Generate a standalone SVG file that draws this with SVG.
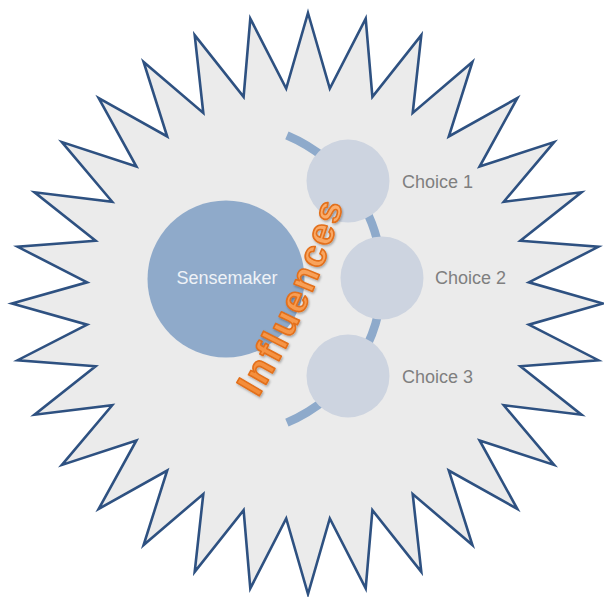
<svg xmlns="http://www.w3.org/2000/svg" width="604" height="597" viewBox="0 0 604 597">
  <defs>
    <style>
      .star { fill: #ebebeb; stroke: #2e5181; stroke-width: 2.6; stroke-linejoin: miter; stroke-miterlimit: 20; }
      .arc { fill: none; stroke: #8eaacb; stroke-width: 8.5; stroke-linecap: butt; }
      .main { fill: #8faaca; }
      .choice { fill: #cdd4e0; }
      .lbl { font-family: "Liberation Sans", Arial, sans-serif; font-size: 18px; fill: #7f7f7f; }
      .mainlbl { font-family: "Liberation Sans", Arial, sans-serif; font-size: 18px; fill: #eef2f7; text-anchor: middle; }
      .infl { font-family: "Liberation Sans", Arial, sans-serif; font-size: 38px; font-weight: bold; letter-spacing: 2.6px; fill: url(#orange); stroke: #e36f1a; stroke-width: 1.6; stroke-linejoin: round; }
    </style>
    <linearGradient id="orange" x1="0" y1="0" x2="0" y2="1">
      <stop offset="0" stop-color="#fbb071"/>
      <stop offset="1" stop-color="#f38a35"/>
    </linearGradient>
    <filter id="shadow" x="-20%" y="-20%" width="140%" height="140%">
      <feDropShadow dx="1" dy="1.5" stdDeviation="1.2" flood-color="#000000" flood-opacity="0.3"/>
    </filter>
    <path id="inflPath" d="M 258 398 Q 318.5 296.4 345 198 L 351 176"/>
  </defs>

  <g id="star">
    <polygon class="star" points="308,13 329.8,88.5 365.7,18.6 372.4,96.8 421.3,35.1 412.7,113 472.4,62 448.8,136.5 517.3,98.1 479.6,166.5 554.1,142.1 503.8,201.7 581.5,192.3 520.4,240.8 598.3,246.8 528.9,282.3 603,303.5 528.9,324.7 598.3,360.2 520.4,366.2 581.5,414.7 503.8,405.3 554.1,464.9 479.6,440.5 517.3,508.9 448.8,470.5 472.4,545 412.7,494 421.3,571.9 372.4,510.2 365.7,588.4 329.8,518.5 308,594 286.2,518.5 250.3,588.4 243.6,510.2 194.7,571.9 203.3,494 143.6,545 167.2,470.5 98.7,508.9 136.4,440.5 61.9,464.9 112.2,405.3 34.5,414.7 95.6,366.2 17.7,360.2 87.1,324.7 12,303.5 87.1,282.3 17.7,246.8 95.6,240.8 34.5,192.3 112.2,201.7 61.9,142.1 136.4,166.5 98.7,98.1 167.2,136.5 143.6,62 203.3,113 194.7,35.1 243.6,96.8 250.3,18.6 286.2,88.5"/>
  </g>

  <g id="connectors">
    <path class="arc" d="M 286.9 135.4 A 156 156 0 0 1 286.9 422.6"/>
  </g>

  <g id="sensemaker">
    <circle class="main" cx="226" cy="279" r="78.5"/>
    <text class="mainlbl" x="227" y="284">Sensemaker</text>
  </g>

  <g id="choice1">
    <circle class="choice" cx="348" cy="181" r="41.5"/>
    <text class="lbl" x="402" y="188">Choice 1</text>
  </g>

  <g id="choice2">
    <circle class="choice" cx="382" cy="278" r="41.5"/>
    <text class="lbl" x="435" y="284">Choice 2</text>
  </g>

  <g id="choice3">
    <circle class="choice" cx="348" cy="376" r="41.5"/>
    <text class="lbl" x="402" y="383">Choice 3</text>
  </g>

  <g id="influences" filter="url(#shadow)">
    <text class="infl"><textPath href="#inflPath">Influences</textPath></text>
  </g>
</svg>
